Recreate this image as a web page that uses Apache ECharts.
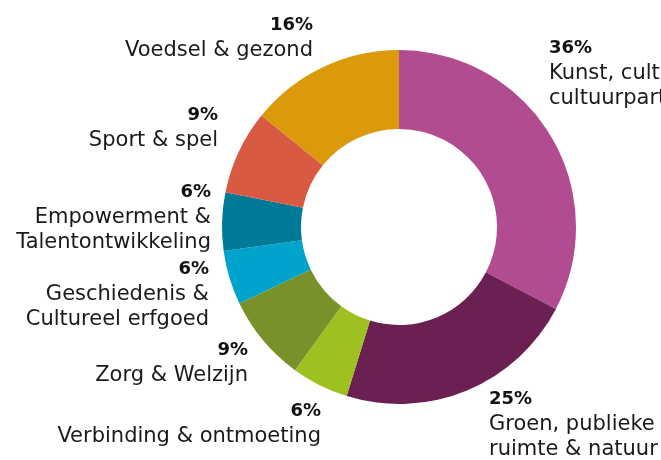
<!DOCTYPE html>
<html>
<head>
<meta charset="utf-8">
<script src="https://cdn.jsdelivr.net/npm/echarts@6/dist/echarts.min.js"></script>
<style>
html, body { margin: 0; padding: 0; background: #fff; }
#main { width: 661px; height: 460px; }
</style>
</head>
<body>
<div id="main"></div>
<script>
// themes, clockwise from the top
var names = ['Kunst, cultuur &\ncultuurparticipatie', 'Groen, publieke\nruimte & natuur', 'Verbinding & ontmoeting',
    'Zorg & Welzijn', 'Geschiedenis &\nCultureel erfgoed', 'Empowerment &\nTalentontwikkeling', 'Sport & spel', 'Voedsel & gezond'];
var values = [36.9, 25.0, 5.9, 8.9, 5.6, 6.0, 8.7, 16.0];
var pctLabels = ['36%', '25%', '6%', '9%', '6%', '6%', '9%', '16%'];
var colors = ['#b04c8f', '#6a2050', '#9dc21f', '#78912b', '#00a3cb', '#007a99', '#d85a42', '#da9a0b'];

// where each label block sits (x = anchor edge, y = top of block)
var labelPos = [
    { x: 549, y: 36, align: 'left' },
    { x: 489, y: 387, align: 'left' },
    { x: 321, y: 399, align: 'right' },
    { x: 248, y: 338, align: 'right' },
    { x: 209, y: 257, align: 'right' },
    { x: 211, y: 180, align: 'right' },
    { x: 218, y: 103, align: 'right' },
    { x: 313, y: 13, align: 'right' }
];

var pieData = [];
for (var i = 0; i < names.length; i++) {
    pieData.push({
        name: names[i],
        value: values[i],
        itemStyle: { color: colors[i] },
        label: { formatter: '{p|' + pctLabels[i] + '}\n{n|' + names[i].split('\n').join('}\n{n|') + '}' }
    });
}

var mainEchart = echarts.init(document.getElementById('main'));
mainEchart.setOption({
    animation: false,
    series: [{
        type: 'pie',
        center: [399, 227],
        radius: [98, 177],
        startAngle: 90,
        clockwise: true,
        silent: true,
        data: pieData,
        labelLine: { show: false },
        label: {
            show: true,
            position: 'outside',
            overflow: 'none',
            color: '#1a1a1a',
            fontFamily: 'DejaVu Sans',
            rich: {
                p: { fontFamily: 'DejaVu Sans', fontWeight: 'bold', fontSize: 18, lineHeight: 25, color: '#111' },
                n: { fontFamily: 'DejaVu Sans', fontSize: 21, lineHeight: 25, color: '#1a1a1a' }
            }
        },
        labelLayout: function (params) {
            var p = labelPos[params.dataIndex];
            return { x: p.x, y: p.y, align: p.align, verticalAlign: 'top', hideOverlap: false };
        }
    }]
});
</script>
</body>
</html>
